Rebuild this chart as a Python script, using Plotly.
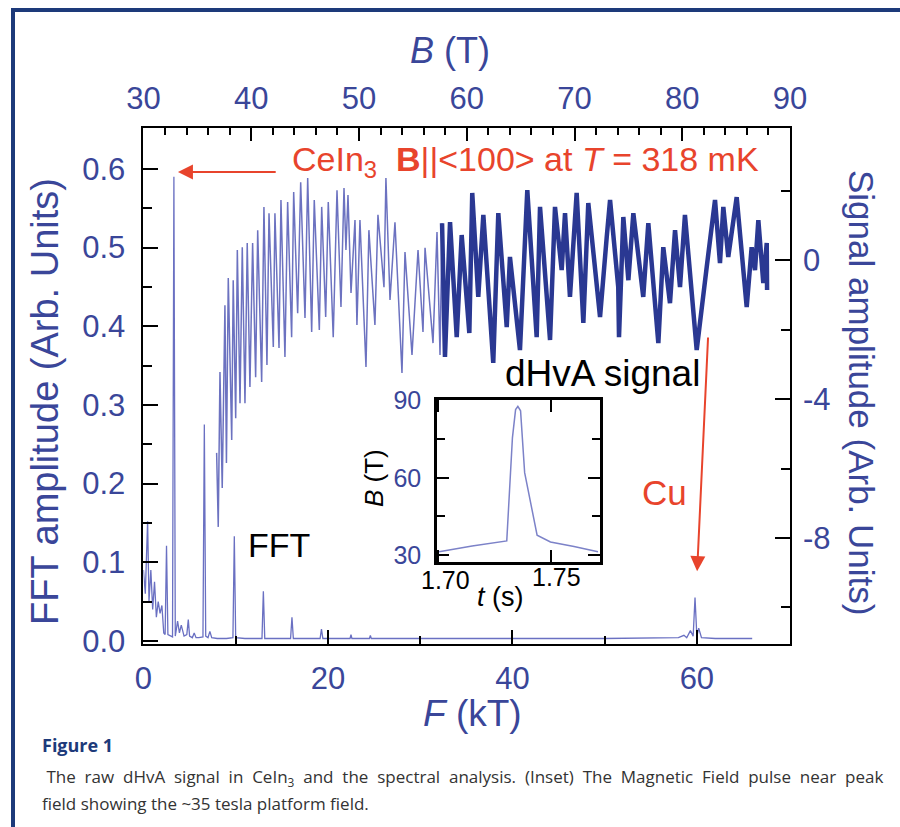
import plotly.graph_objects as go

# ---------------- data ----------------
# FFT spectrum: frequency F (kT) and amplitude (arb. units)
fft_F = [0.0, 0.2, 0.45, 0.6, 0.8, 1.0, 1.2, 1.4, 1.6, 1.8, 2.0, 2.2, 2.35, 2.5, 2.65,
         2.9, 3.15, 3.3, 3.45, 3.7, 3.9, 4.1, 4.4, 4.7, 4.86, 5.0, 5.3, 5.5, 5.7, 6.0,
         6.45, 6.6, 6.75, 7.0, 7.2, 7.4, 8.0, 9.0, 9.7, 9.85, 10.0, 11.0, 12.85, 13.0,
         13.15, 14.5, 15.95, 16.1, 16.25, 17.5, 19.15, 19.3, 19.45, 21.0, 22.4, 22.5,
         22.6, 24.5, 24.6, 24.7, 30.0, 40.0, 50.0, 58.0, 58.6, 58.9, 59.3, 59.6, 59.8,
         60.0, 60.2, 60.5, 62.0, 66.0]
fft_amp = [0.09, 0.06, 0.152, 0.05, 0.09, 0.04, 0.075, 0.03, 0.05, 0.035, 0.045, 0.01,
           0.008, 0.121, 0.008, 0.006, 0.005, 0.59, 0.006, 0.025, 0.01, 0.02, 0.006,
           0.008, 0.027, 0.006, 0.004, 0.01, 0.004, 0.004, 0.005, 0.275, 0.006, 0.004,
           0.012, 0.004, 0.003, 0.003, 0.004, 0.133, 0.004, 0.003, 0.003, 0.063, 0.003,
           0.003, 0.003, 0.030, 0.003, 0.003, 0.003, 0.015, 0.003, 0.003, 0.003, 0.008,
           0.003, 0.003, 0.007, 0.003, 0.003, 0.003, 0.003, 0.004, 0.007, 0.004, 0.013,
           0.006, 0.055, 0.006, 0.016, 0.004, 0.003, 0.003]

# dHvA signal, lower-field part: field B (T) and signal (arb. units)
sig_B_low = [36.79, 36.94, 37.10, 37.31, 37.56, 37.70, 37.87, 38.19, 38.33, 38.56,
             38.71, 38.96, 39.17, 39.42, 39.63, 39.88, 40.13, 40.41, 40.60, 40.97,
             41.18, 41.46, 41.65, 42.05, 42.20, 42.58, 42.76, 43.13, 43.38, 43.75,
             43.94, 44.31, 44.59, 44.99, 45.24, 45.61, 45.85, 46.32, 46.54, 46.91,
             47.15, 47.61, 47.96, 48.33, 48.61, 48.79, 48.98, 49.26, 49.63, 49.81,
             50.09, 50.65, 50.92, 51.48, 51.76, 52.32, 52.50, 52.88, 53.34, 53.99,
             54.27, 54.92, 55.48, 55.94, 56.13, 56.87, 57.24, 57.52, 57.71]
sig_low = [-5.55, -7.68, -3.22, -6.56, -1.30, -5.84, -0.52, -5.18, -0.58, -4.55,
           0.29, -4.12, 0.37, -4.12, 0.49, -3.65, 0.49, -3.37, 0.86, -3.51,
           1.53, -3.02, 1.35, -2.50, 1.35, -2.53, 1.73, -2.79, 1.67, -2.22,
           1.96, -1.53, 2.24, -1.67, 2.36, -2.07, 1.73, -2.01, 1.53, -1.64,
           1.67, -2.22, 2.01, -1.35, 2.07, 0.29, 1.87, -0.95, 1.15, -1.87,
           1.15, -3.08, 0.86, -1.87, 1.30, -0.78, 2.36, -1.15, 1.09, -3.25,
           0.23, -2.73, 0.29, -2.07, 0.35, -2.39, 0.81, -2.73, 1.06]

# dHvA signal, high-field part
sig_B_high = [57.71, 57.98, 58.45, 59.07, 59.53, 60.24, 60.51, 61.07, 61.54, 62.46,
              62.93, 63.71, 64.01, 64.94, 65.62, 66.49, 66.80, 67.73, 68.19, 68.81,
              69.12, 69.58, 70.20, 70.82, 71.28, 72.37, 72.99, 73.30, 74.06, 74.13,
              74.53, 75.00, 75.46, 76.38, 76.85, 77.78, 78.24, 78.86, 79.33, 79.79,
              80.25, 81.34, 82.27, 83.04, 83.50, 83.81, 84.27, 85.05, 85.98, 86.44,
              86.75, 87.06, 87.52, 87.84, 87.87]
sig_high = [1.06, -2.79, 1.09, -2.22, 0.72, -2.10, 1.93, -1.06, 1.30, -2.96,
            1.35, -1.93, 0.09, -2.59, 2.01, -2.22, 1.53, -2.30, 1.53, -0.29,
            1.35, -1.06, 1.93, -1.81, 1.64, -1.64, 0.66, 1.73, -0.78, -2.22,
            1.24, -0.58, 1.35, -1.06, 1.06, -2.39, 0.37, -1.24, 0.86, -0.78,
            1.30, -2.59, -0.20, 1.73, -0.09, 1.53, 0.09, 1.81, -1.35, 0.37,
            -0.29, 1.15, -0.66, 0.49, -0.86]

# Inset: field pulse B(t)
pulse_t = [1.7004, 1.7150, 1.7303, 1.7328, 1.7342, 1.7352, 1.7364, 1.7382, 1.7437,
           1.7496, 1.7600, 1.7706]
pulse_B = [31.3, 33.5, 35.5, 75.5, 86.5, 87.7, 86.0, 62.0, 37.7, 35.1, 33.3, 31.3]

# Tick values and labels
F_ticks = [0, 20, 40, 60]
F_minor = [10, 30, 50]
B_ticks = [30, 40, 50, 60, 70, 80, 90]
B_minor = [b for b in range(32, 90, 2) if b % 10 != 0]
fft_ticks = [0.0, 0.1, 0.2, 0.3, 0.4, 0.5, 0.6]
fft_labels = ["0.0", "0.1", "0.2", "0.3", "0.4", "0.5", "0.6"]
fft_minor = [0.05, 0.15, 0.25, 0.35, 0.45, 0.55]
sig_ticks = [0, -4, -8]
sig_labels = ["0", "-4", "-8"]
sig_minor = [2, -2, -6, -10]
pulse_B_ticks = [30, 60, 90]
pulse_B_minor = [45, 75]
pulse_t_ticks = [1.70, 1.75]
pulse_t_labels = ["1.70", "1.75"]

# ---------------- style ----------------
FONT = "Liberation Sans, Arial, Helvetica, sans-serif"
NAVY = "#3a4699"
RED = "#e8442c"
FFT_COL = "#6a70c2"
SIG_LIGHT = "#6c72c0"
SIG_DARK = "#2a3892"
FRAME = "#1d3a7a"

fig = go.Figure()

fig.add_trace(go.Scatter(x=fft_F, y=fft_amp, mode="lines",
                         line=dict(color=FFT_COL, width=1.3),
                         xaxis="x", yaxis="y", showlegend=False))
fig.add_trace(go.Scatter(x=sig_B_low, y=sig_low, mode="lines",
                         line=dict(color=SIG_LIGHT, width=1.5),
                         xaxis="x2", yaxis="y2", showlegend=False))
fig.add_trace(go.Scatter(x=sig_B_high, y=sig_high, mode="lines",
                         line=dict(color=SIG_DARK, width=4.5),
                         xaxis="x2", yaxis="y2", showlegend=False))
fig.add_trace(go.Scatter(x=pulse_t, y=pulse_B, mode="lines",
                         line=dict(color="#7c82c8", width=1.5),
                         xaxis="x3", yaxis="y3", showlegend=False))

main_x = [0.1594, 0.8778]
main_y = [0.2213, 0.8452]
tick_common = dict(ticks="inside", tickcolor="black", tickwidth=2,
                   showgrid=False, zeroline=False, automargin=False)

fig.update_layout(
    width=900, height=827, autosize=False,
    margin=dict(l=0, r=0, t=0, b=0),
    paper_bgcolor="white", plot_bgcolor="white",
    font=dict(family=FONT),
    xaxis=dict(domain=main_x, anchor="y", range=[0, 70.1],
               tickvals=F_ticks, ticklen=14,
               tickfont=dict(size=31, color=NAVY, family=FONT),
               ticklabelstandoff=6,
               showline=True, linecolor="black", linewidth=2, mirror=True,
               minor=dict(tickvals=F_minor, ticks="inside", ticklen=8,
                          tickwidth=2, tickcolor="black"),
               **tick_common),
    xaxis2=dict(overlaying="x", side="top", anchor="y", range=[30, 90],
                tickvals=B_ticks, ticklen=13,
                tickfont=dict(size=31, color=NAVY, family=FONT),
                ticklabelstandoff=12,
                showline=False,
                minor=dict(tickvals=B_minor, ticks="inside", ticklen=7,
                           tickwidth=2, tickcolor="black"),
                **tick_common),
    yaxis=dict(domain=main_y, anchor="x", range=[-0.004, 0.652],
               tickvals=fft_ticks, ticktext=fft_labels, ticklen=15,
               tickfont=dict(size=31, color=NAVY, family=FONT),
               ticklabelstandoff=10,
               showline=True, linecolor="black", linewidth=2, mirror=True,
               minor=dict(tickvals=fft_minor, ticks="inside", ticklen=9,
                          tickwidth=2, tickcolor="black"),
               **tick_common),
    yaxis2=dict(overlaying="y", side="right", anchor="x", range=[-11.05, 3.80],
                tickvals=sig_ticks, ticktext=sig_labels, ticklen=15,
                tickfont=dict(size=31, color=NAVY, family=FONT),
                ticklabelstandoff=12,
                showline=False,
                minor=dict(tickvals=sig_minor, ticks="inside", ticklen=9,
                           tickwidth=2, tickcolor="black"),
                **tick_common),
    xaxis3=dict(domain=[0.4856, 0.6667], anchor="y3", range=[1.6995, 1.7715],
                tickvals=pulse_t_ticks, ticklen=12, showticklabels=False,
                showline=True, linecolor="black", linewidth=2.5, mirror="ticks",
                **tick_common),
    yaxis3=dict(domain=[0.3204, 0.5163], anchor="x3", range=[27.3, 90.2],
                tickvals=pulse_B_ticks, ticklen=12,
                tickfont=dict(size=25, color=NAVY, family=FONT),
                ticklabelstandoff=8,
                showline=True, linecolor="black", linewidth=2.5, mirror="ticks",
                minor=dict(tickvals=pulse_B_minor, ticks="inside", ticklen=8,
                           tickwidth=2, tickcolor="black"),
                **tick_common),
)


def label(text, x, y, size, color, xref="paper", yref="paper", xanchor="center",
          angle=0, **kw):
    return dict(text=text, x=x, y=y, xref=xref, yref=yref, xanchor=xanchor,
                yanchor="middle", textangle=angle, showarrow=False,
                font=dict(size=size, color=color, family=kw.pop("family", FONT)), **kw)


ann = []
# axis titles
ann.append(label("<i>B</i> (T)", 0.5, 1 - 51 / 827, 36, NAVY))
ann.append(label("<i>F</i> (kT)", 472 / 900, 1 - 713 / 827, 37, NAVY))
ann.append(label("FFT amplitude (Arb. Units)", 45 / 900, 1 - 402 / 827, 38, NAVY, angle=-90))
ann.append(label("Signal amplitude (Arb. Units)", 862 / 900, 1 - 392 / 827, 35, NAVY, angle=90))

# plot labels
ann.append(label("CeIn<sub>3</sub>  <b>B</b>||&lt;100&gt; at <i>T</i> = 318 mK",
                 15.9, 0.610, 34, RED, xref="x", yref="y", xanchor="left"))
ann.append(dict(text="", x=3.74, y=0.596, xref="x", yref="y",
                ax=14.5, ay=0.596, axref="x", ayref="y", showarrow=True,
                arrowhead=2, arrowsize=1.5, arrowwidth=2, arrowcolor=RED, standoff=0))
ann.append(label("dHvA signal", 39.0, 0.340, 37, "black", xref="x", yref="y", xanchor="left"))
ann.append(label("FFT", 11.1, 0.1216, 34, "black", xref="x", yref="y", xanchor="left"))
ann.append(label("Cu", 53.8, 0.189, 35, RED, xref="x", yref="y", xanchor="left"))
ann.append(dict(text="", x=60.03, y=0.0886, xref="x", yref="y",
                ax=61.22, ay=0.3875, axref="x", ayref="y", showarrow=True,
                arrowhead=2, arrowsize=1.5, arrowwidth=2, arrowcolor=RED, standoff=0))

# inset labels
for tv, tl, dx, yp in zip(pulse_t_ticks, pulse_t_labels, [7, 5], [580, 577]):
    ann.append(label(tl, tv, 1 - yp / 827, 25, "black", xref="x3", xshift=dx))
ann.append(label("<i>t</i> (s)", 500 / 900, 1 - 597 / 827, 27, "black"))
ann.append(label("<i>B</i> (T)", 374 / 900, 1 - 478 / 827, 26, "black", angle=-90))

# caption (first line justified to the full width)
CAP_FONT = "Open Sans, Noto Sans, sans-serif"
cap_line1 = (" The raw dHvA signal in CeIn<sub>3</sub> and the spectral analysis. "
             "(Inset) The Magnetic Field pulse near peak")
cap_line1 = " " + cap_line1.strip().replace(" ", " &nbsp;")
cap_line2 = "field showing the ~35 tesla platform field."
ann.append(label("<b>Figure 1</b>", 40 / 900, 1 - 745 / 827, 18, FRAME,
                 xanchor="left", family=CAP_FONT))
ann.append(label(cap_line1, 40 / 900, 1 - 777 / 827, 17, "#333333",
                 xanchor="left", family=CAP_FONT))
ann.append(label(cap_line2, 40 / 900, 1 - 803 / 827, 17, "#333333",
                 xanchor="left", family=CAP_FONT))

fig.update_layout(annotations=ann)

# page frame lines
fig.add_shape(type="line", xref="paper", yref="paper", x0=11 / 900, x1=1,
              y0=1 - 10 / 827, y1=1 - 10 / 827, line=dict(color=FRAME, width=4))
fig.add_shape(type="line", xref="paper", yref="paper", x0=13 / 900, x1=13 / 900,
              y0=0, y1=1 - 8 / 827, line=dict(color=FRAME, width=4))

fig.write_html("out.html")
